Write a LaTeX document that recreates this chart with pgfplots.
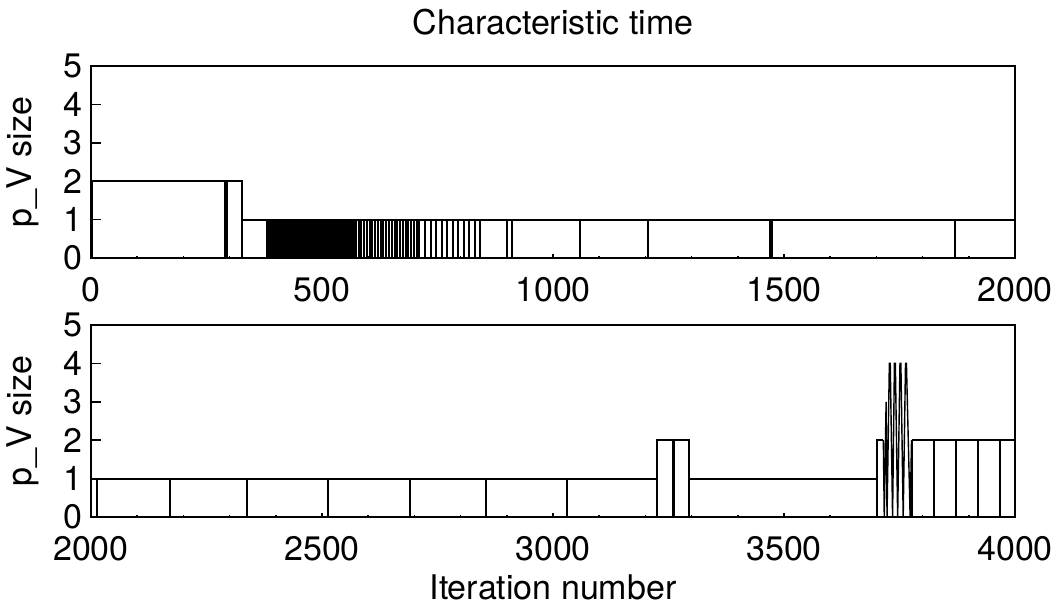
\documentclass[border=0pt]{standalone}
\usepackage{fontspec}
\setmainfont{TeX Gyre Heros}
\usepackage{pgfplots}
\pgfplotsset{compat=1.18}
\begin{document}
\begin{tikzpicture}[font=\fontsize{17}{20}\selectfont]
\pgfplotsset{
  panel/.style={
    scale only axis, width=462pt, height=96pt, anchor=south west,
    ymin=0, ymax=5, ytick={0,1,2,3,4,5},
    tick pos=left, tick align=inside,
    major tick length=5pt, minor tick length=1.2pt,
    xtick style={/pgfplots/major tick length=2.2pt},
    minor x tick num=4,
    axis line style={line width=1pt},
    every tick/.style={line width=0.8pt, black},
    /pgf/number format/assume math mode=true,
    /pgf/number format/set thousands separator={},
    ylabel={p\_V size},
    ylabel style={yshift=5pt},
    xticklabel style={yshift=-6pt},
    yticklabel style={xshift=-1pt},
  },
  sig/.style={black, line width=1pt, no markers},
}
\path[use as bounding box] (0,0) rectangle (530pt,-303pt);
\begin{axis}[panel, at={(45.5pt,-129pt)}, xmin=0, xmax=2000,
  xtick={0,500,1000,1500,2000},
  title={Characteristic time}, title style={yshift=6pt}]
\addplot[sig, const plot] coordinates {(0,2) (327,1) (2000,1)};
\addplot[sig, ycomb] coordinates {
(0,2)(2,2)(290,2)(294,2)(327,2)
(381,1)(384,1)(388,1)(391,1)(395,1)(398,1)(402,1)(405,1)(409,1)(412,1)
(416,1)(419,1)(423,1)(426,1)(430,1)(433,1)(437,1)(440,1)(444,1)(447,1)
(451,1)(454,1)(458,1)(461,1)(465,1)(468,1)(472,1)(475,1)(479,1)(482,1)
(486,1)(489,1)(493,1)(496,1)(500,1)(503,1)(507,1)(510,1)(514,1)(517,1)
(521,1)(524,1)(528,1)(531,1)(535,1)(538,1)(542,1)(545,1)(549,1)(552,1)
(556,1)(559,1)(563,1)(566,1)(570,1)(573,1)
(579,1)(585,1)(591,1)(597,1)(603,1)(609,1)(615,1)(621,1)(627,1)(633,1)
(639,1)(645,1)(651,1)(657,1)(663,1)(669,1)(675,1)(681,1)(687,1)(693,1)
(699,1)(705,1)(711,1)
(723,1)(735,1)(747,1)(759,1)(771,1)(783,1)(795,1)(807,1)(819,1)(831,1)(842,1)
(900,1)(911,1)(1058,1)(1205,1)(1470,1)(1473,1)(1870,1)
};
\end{axis}
\begin{axis}[panel, at={(45.5pt,-258.5pt)}, xmin=2000, xmax=4000,
  xtick={2000,2500,3000,3500,4000},
  xlabel={Iteration number}, xlabel style={yshift=0pt}]
\addplot[sig, const plot] coordinates {(2000,1) (3226,2) (3294,1) (3702,2) (3715,2)};
\addplot[sig, const plot] coordinates {(3776,2) (4000,2)};
\addplot[black, line width=0.7pt, sharp plot, no markers] coordinates {
(3715,2)(3717,0)(3721,3)(3723,0)(3728,4)(3730,4)(3735,0)(3739,4)(3741,4)
(3746,0)(3751,4)(3753,4)(3758,0)(3763,4)(3765,4)(3773,0)(3776,2)
};
\addplot[sig, ycomb] coordinates {
(2013,1)(2172,1)(2338,1)(2514,1)(2690,1)(2856,1)(3030,1)
(3226,2)(3259,2)(3262,2)(3294,2)(3702,2)(3776,2)
(3825,2)(3872,2)(3920,2)(3968,2)
};
\end{axis}
\end{tikzpicture}
\end{document}
